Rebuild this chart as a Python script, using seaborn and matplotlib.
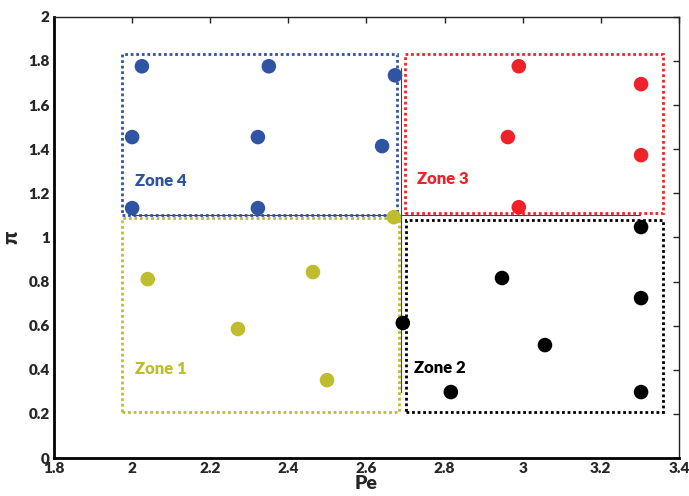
import numpy as np
import pandas as pd
import matplotlib
matplotlib.use("Agg")
import matplotlib.pyplot as plt
import seaborn as sns
from matplotlib.patches import Rectangle

sns.set_style("white")
plt.rcParams["font.family"] = ["Lato", "DejaVu Sans"]

# ── data ────────────────────────────────────────────────────
zone1_pe = [2.04, 2.463, 2.271, 2.499, 2.670]
zone1_pi = [0.811, 0.843, 0.585, 0.353, 1.092]

zone2_pe = [2.693, 2.947, 3.303, 3.303, 3.057, 2.816, 3.303]
zone2_pi = [0.612, 0.816, 1.047, 0.725, 0.512, 0.299, 0.299]

zone3_pe = [2.990, 3.303, 2.962, 3.303, 2.990]
zone3_pi = [1.776, 1.695, 1.455, 1.373, 1.137]

zone4_pe = [2.025, 2.350, 2.673, 2.000, 2.322, 2.640, 2.000, 2.322]
zone4_pi = [1.776, 1.776, 1.735, 1.455, 1.455, 1.414, 1.133, 1.133]

zones = ["Zone 1", "Zone 2", "Zone 3", "Zone 4"]
colors = ["#bdbd2e", "#000000", "#ee2228", "#2f54a3"]

# zone boxes: (x0, y0, x1, y1)
boxes = [(1.974, 0.208, 2.683, 1.087),
         (2.700, 0.208, 3.359, 1.078),
         (2.699, 1.110, 3.359, 1.830),
         (1.974, 1.101, 2.678, 1.830)]
label_pos = [(2.008, 0.403), (2.722, 0.408), (2.729, 1.264), (2.008, 1.255)]

df = pd.concat([
    pd.DataFrame({"Pe": zone1_pe, "pi": zone1_pi, "zone": "Zone 1"}),
    pd.DataFrame({"Pe": zone2_pe, "pi": zone2_pi, "zone": "Zone 2"}),
    pd.DataFrame({"Pe": zone3_pe, "pi": zone3_pi, "zone": "Zone 3"}),
    pd.DataFrame({"Pe": zone4_pe, "pi": zone4_pi, "zone": "Zone 4"}),
], ignore_index=True)

# ── plot ────────────────────────────────────────────────────
fig = plt.figure(figsize=(6.89, 4.96), dpi=100)
ax = fig.add_axes([0.0784, 0.0766, 0.907, 0.8894])

# thin guide lines
ax.plot([2.0, 3.3], [1.1, 1.1], color="#444444", lw=0.8, zorder=1)
ax.plot([2.688, 2.688], [0.3, 1.77], color="#444444", lw=0.8, zorder=1)

for (x0, y0, x1, y1), c in zip(boxes, colors):
    ax.add_patch(Rectangle((x0, y0), x1 - x0, y1 - y0, fill=False,
                           edgecolor=c, linestyle=(0, (1, 1)), lw=2, zorder=2))

sns.scatterplot(data=df, x="Pe", y="pi", hue="zone", hue_order=zones,
                palette=colors, s=110, edgecolor="none", legend=False,
                ax=ax, zorder=3)

for (tx, ty), z, c in zip(label_pos, zones, colors):
    ax.text(tx, ty, z, color=c, fontsize=12, fontweight="heavy",
            ha="left", va="center")

ax.set_xlim(1.8, 3.4)
ax.set_ylim(0, 2)
ax.set_xticks(np.arange(1.8, 3.41, 0.2))
ax.set_yticks(np.arange(0, 2.01, 0.2))
ax.set_xticklabels(["1.8", "2", "2.2", "2.4", "2.6", "2.8", "3", "3.2", "3.4"])
ax.set_yticklabels(["0", "0.2", "0.4", "0.6", "0.8", "1", "1.2", "1.4", "1.6", "1.8", "2"])
ax.tick_params(direction="in", length=4, width=1, top=True, right=True,
               labelsize=11, pad=3)
for lab in ax.get_xticklabels() + ax.get_yticklabels():
    lab.set_fontweight("heavy")

for side in ["left", "bottom"]:
    ax.spines[side].set_linewidth(2)
    ax.spines[side].set_color("black")
for side in ["top", "right"]:
    ax.spines[side].set_linewidth(1)
    ax.spines[side].set_color("#222222")

ax.set_xlabel("Pe", fontsize=14, fontweight="heavy", labelpad=0)
ax.set_ylabel("π", fontsize=15, fontweight="heavy", labelpad=6)

fig.savefig("out.png", dpi=100)
